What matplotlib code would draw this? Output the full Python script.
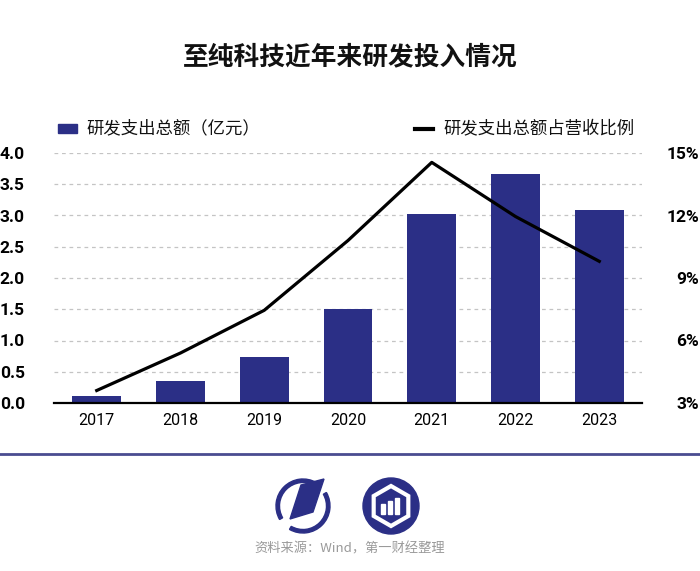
import numpy as np
import matplotlib
matplotlib.use("Agg")
from matplotlib import pyplot as plt
from matplotlib.patches import Rectangle, Circle, Wedge, Polygon, RegularPolygon
from matplotlib.lines import Line2D

plt.rcParams['font.family'] = ['Noto Sans CJK SC', 'DejaVu Sans']

# data
years = ['2017', '2018', '2019', '2020', '2021', '2022', '2023']
rd_spend = [0.12, 0.35, 0.73, 1.50, 3.03, 3.66, 3.08]        # 亿元
rd_ratio = [3.6, 5.4, 7.45, 10.8, 14.55, 11.95, 9.8]         # %
left_ticks = [0.0, 0.5, 1.0, 1.5, 2.0, 2.5, 3.0, 3.5, 4.0]
right_ticks = [3, 6, 9, 12, 15]

navy = '#2b2f86'

fig = plt.figure(figsize=(7.0, 5.71), dpi=100)
W, H = 700, 571

ax = fig.add_axes([54 / W, 1 - 403 / H, (642 - 54) / W, (403 - 153) / H])
x = np.arange(len(years))
ax.bar(x, rd_spend, width=0.58, color=navy, zorder=3)
ax.set_xlim(-0.51, len(years) - 0.49)
ax.set_ylim(0, 4.0)
ax.set_yticks(left_ticks)
ax.set_yticklabels([f'{v:.1f}' for v in left_ticks], fontfamily='Roboto',
                   fontweight='bold', fontsize=12.5)
ax.set_xticks(x)
ax.set_xticklabels(years, fontfamily='Roboto', fontsize=11.5)
ax.tick_params(axis='y', length=0, pad=21)
ax.tick_params(axis='x', length=0, pad=7)
for t in ax.get_yticklabels():
    t.set_ha('right')
ax.grid(axis='y', color='#c4c4c4', linestyle=(0, (3, 3)), linewidth=0.9, zorder=0)
ax.set_axisbelow(True)
for s in ['top', 'right', 'left']:
    ax.spines[s].set_visible(False)
ax.spines['bottom'].set_linewidth(1.6)
ax.spines['bottom'].set_zorder(5)

ax2 = ax.twinx()
ax2.plot(x, rd_ratio, color='black', linewidth=2.3, zorder=4)
ax2.set_ylim(3, 15)
ax2.set_yticks(right_ticks)
ax2.set_yticklabels([f'{v}%' for v in right_ticks], fontfamily='Roboto',
                    fontweight='bold', fontsize=12.5)
ax2.tick_params(axis='y', length=0, pad=41)
for t in ax2.get_yticklabels():
    t.set_ha('right')
for s in ax2.spines.values():
    s.set_visible(False)

# overlay in pixel coordinates (y downwards) for title, legend, footer
ov = fig.add_axes([0, 0, 1, 1], zorder=-1)
ov.set_xlim(0, W)
ov.set_ylim(H, 0)
ov.axis('off')

ov.text(350, 57, '至纯科技近年来研发投入情况', ha='center', va='center',
        fontsize=18.5, fontweight='bold', color='#111111')

ov.add_patch(Rectangle((58, 124), 19, 9, color=navy))
ov.text(86, 128.5, '研发支出总额（亿元）', ha='left', va='center', fontsize=12.5,
        color='#111111')
ov.add_line(Line2D([415, 433], [128.5, 128.5], color='black', linewidth=3))
ov.text(443, 128.5, '研发支出总额占营收比例', ha='left', va='center', fontsize=12.5,
        color='#111111')

ov.add_line(Line2D([0, W], [454, 454], color='#4a4c90', linewidth=2))

# left logo: broken ring with a parallelogram (angles flipped, y axis is inverted)
cx, cy, r = 303, 506, 27
ov.add_patch(Wedge((cx, cy), r, 330, 480, width=3.5, color=navy))
ov.add_patch(Wedge((cx, cy), r, 150, 300, width=3.5, color=navy))
ov.add_patch(Polygon([(301, 485), (324, 479), (313, 512), (290, 519)], color=navy))

# right logo: filled circle with hexagon and bars
cx, cy = 391, 506
ov.add_patch(Circle((cx, cy), 28, color=navy))
ov.add_patch(RegularPolygon((cx, cy), 6, radius=20, orientation=0,
                            facecolor='none', edgecolor='white', linewidth=3))
for bx, bh in [(383, 10), (390, 13), (397, 16)]:
    ov.add_patch(Rectangle((bx - 2, 514 - bh), 4, bh, color='white'))

ov.text(350, 549, '资料来源：Wind，第一财经整理', ha='center', va='center',
        fontsize=9.5, color='#9a9a9a')

fig.savefig('out.png', dpi=100)
